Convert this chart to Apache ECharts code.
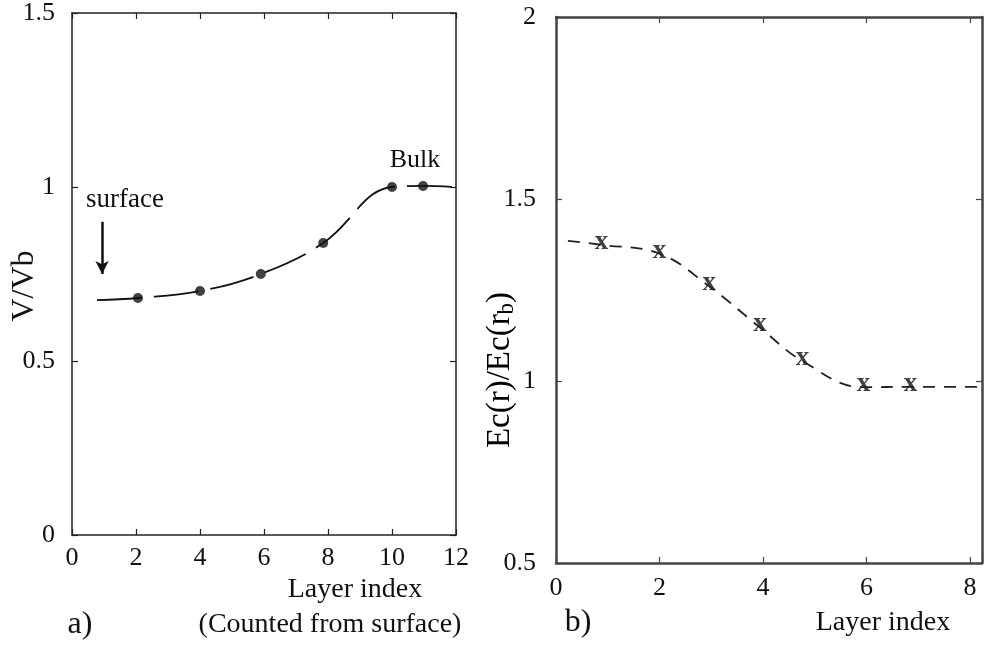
<!DOCTYPE html>
<html>
<head>
<meta charset="utf-8">
<script src="https://cdn.jsdelivr.net/npm/echarts@6/dist/echarts.min.js"></script>
<style>
    html, body { margin: 0; padding: 0; background: #fff; }
    #main { width: 985px; height: 648px; }
</style>
</head>
<body>
<div id="main"></div>
<script>
// panel a) V/Vb against layer index
var dotLayerA = [2.06, 4.0, 5.9, 7.85, 10.0, 10.97];
var dotRatioA = [0.681, 0.701, 0.75, 0.839, 1.0, 1.003];
var lineStartA = [0.78, 0.675];
var lineEndA = [12, 1.0];

// panel b) Ec(r)/Ec(rb) against layer index
var crossLayerB = [0.88, 2.0, 2.96, 3.94, 4.76, 5.94, 6.85];
var crossRatioB = [1.374, 1.35, 1.26, 1.147, 1.055, 0.983, 0.984];
var lineStartB = [0.23, 1.385];
var lineEndB = [8.23, 0.984];

var serif = 'Liberation Serif';

function pairs(xs, ys) {
    return xs.map(function (x, i) { return [x, ys[i]]; });
}

var dotsA = pairs(dotLayerA, dotRatioA);
var crossesB = pairs(crossLayerB, crossRatioB);

// axis helper: the box of each panel is made of 4 axes with inner ticks
function boxAxis(grid, pos, min, max, interval, color, width, labels, margin) {
    return {
        type: 'value',
        gridIndex: grid,
        position: pos,
        min: min,
        max: max,
        interval: interval,
        splitLine: { show: false },
        axisLine: { show: true, onZero: false, lineStyle: { color: color, width: width } },
        axisTick: { show: true, inside: true, length: 6, lineStyle: { color: color, width: 1.2 } },
        axisLabel: {
            show: labels,
            margin: margin,
            color: '#111',
            fontFamily: serif,
            fontSize: 26,
            formatter: function (v) {
                return Math.abs(v / interval - Math.round(v / interval)) < 1e-6 ? String(v) : '';
            }
        }
    };
}

var chart = echarts.init(document.getElementById('main'));

var option = {
    backgroundColor: '#fff',
    animation: false,
    grid: [
        { left: 72, top: 13, width: 384, height: 522 },
        { left: 556, top: 17, width: 428, height: 546 }
    ],
    xAxis: [
        boxAxis(0, 'bottom', 0, 12, 2, '#222', 1.5, true, 10),
        boxAxis(0, 'top', 0, 12, 2, '#222', 1.5, false, 0),
        boxAxis(1, 'bottom', 0, 8.23, 2, '#444', 2.5, true, 12),
        boxAxis(1, 'top', 0, 8.23, 2, '#444', 2.5, false, 0)
    ],
    yAxis: [
        boxAxis(0, 'left', 0, 1.5, 0.5, '#222', 1.5, true, 17),
        boxAxis(0, 'right', 0, 1.5, 0.5, '#222', 1.5, false, 0),
        boxAxis(1, 'left', 0.5, 2, 0.5, '#444', 2.5, true, 20),
        boxAxis(1, 'right', 0.5, 2, 0.5, '#444', 2.5, false, 0)
    ],
    series: [
        {
            name: 'V/Vb curve',
            type: 'line',
            xAxisIndex: 0,
            yAxisIndex: 0,
            smooth: 0.4,
            showSymbol: false,
            data: [lineStartA].concat(dotsA, [lineEndA]),
            lineStyle: { color: '#111', width: 1.8, type: [45, 12] },
            markLine: {
                silent: true,
                symbol: ['none', 'arrow'],
                symbolSize: [10, 13],
                label: { show: false },
                lineStyle: { color: '#111', width: 2.5, type: 'solid' },
                data: [[{ coord: [0.94, 0.9] }, { coord: [0.94, 0.75] }]]
            }
        },
        {
            name: 'V/Vb points',
            type: 'scatter',
            xAxisIndex: 0,
            yAxisIndex: 0,
            symbol: 'circle',
            symbolSize: 10,
            itemStyle: { color: '#111' },
            data: dotsA
        },
        {
            name: 'Ec curve',
            type: 'line',
            xAxisIndex: 2,
            yAxisIndex: 2,
            smooth: 0.4,
            showSymbol: false,
            data: [lineStartB].concat(crossesB, [lineEndB]),
            lineStyle: { color: '#222', width: 1.8, type: [12, 9] }
        },
        {
            name: 'Ec points',
            type: 'scatter',
            xAxisIndex: 2,
            yAxisIndex: 2,
            symbol: 'circle',
            symbolSize: 4,
            itemStyle: { color: 'rgba(0,0,0,0)' },
            label: {
                show: true,
                position: 'inside',
                formatter: 'x',
                offset: [0, -3],
                fontFamily: serif,
                fontWeight: 'bold',
                fontSize: 27,
                color: '#111'
            },
            data: crossesB
        }
    ],
    graphic: [
        { type: 'text', x: 86, y: 200, style: { text: 'surface', font: '27px "Liberation Serif"', fill: '#111', verticalAlign: 'middle' } },
        { type: 'text', x: 415, y: 160, style: { text: 'Bulk', font: '26px "Liberation Serif"', fill: '#111', align: 'center', verticalAlign: 'middle' } },
        { type: 'text', x: 25, y: 286, rotation: Math.PI / 2, style: { text: 'V/Vb', font: '32px "Liberation Serif"', fill: '#111', align: 'center', verticalAlign: 'middle' } },
        { type: 'text', x: 355, y: 590, style: { text: 'Layer index', font: '28px "Liberation Serif"', fill: '#111', align: 'center', verticalAlign: 'middle' } },
        { type: 'text', x: 330, y: 625, style: { text: '(Counted from surface)', font: '28px "Liberation Serif"', fill: '#111', align: 'center', verticalAlign: 'middle' } },
        { type: 'text', x: 80, y: 625, style: { text: 'a)', font: '32px "Liberation Serif"', fill: '#111', align: 'center', verticalAlign: 'middle' } },
        {
            type: 'text', x: 500, y: 370, rotation: Math.PI / 2,
            style: {
                text: '{n|Ec(r)/Ec(r}{s|b}{n|)}',
                align: 'center',
                verticalAlign: 'middle',
                rich: {
                    n: { fontFamily: serif, fontSize: 33, color: '#111', lineHeight: 36 },
                    s: { fontFamily: serif, fontSize: 23, color: '#111', lineHeight: 36, verticalAlign: 'bottom', padding: [12, 0, 0, 0] }
                }
            }
        },
        { type: 'text', x: 883, y: 623, style: { text: 'Layer index', font: '28px "Liberation Serif"', fill: '#111', align: 'center', verticalAlign: 'middle' } },
        { type: 'text', x: 578, y: 623, style: { text: 'b)', font: '32px "Liberation Serif"', fill: '#111', align: 'center', verticalAlign: 'middle' } }
    ]
};

chart.setOption(option);
</script>
</body>
</html>
